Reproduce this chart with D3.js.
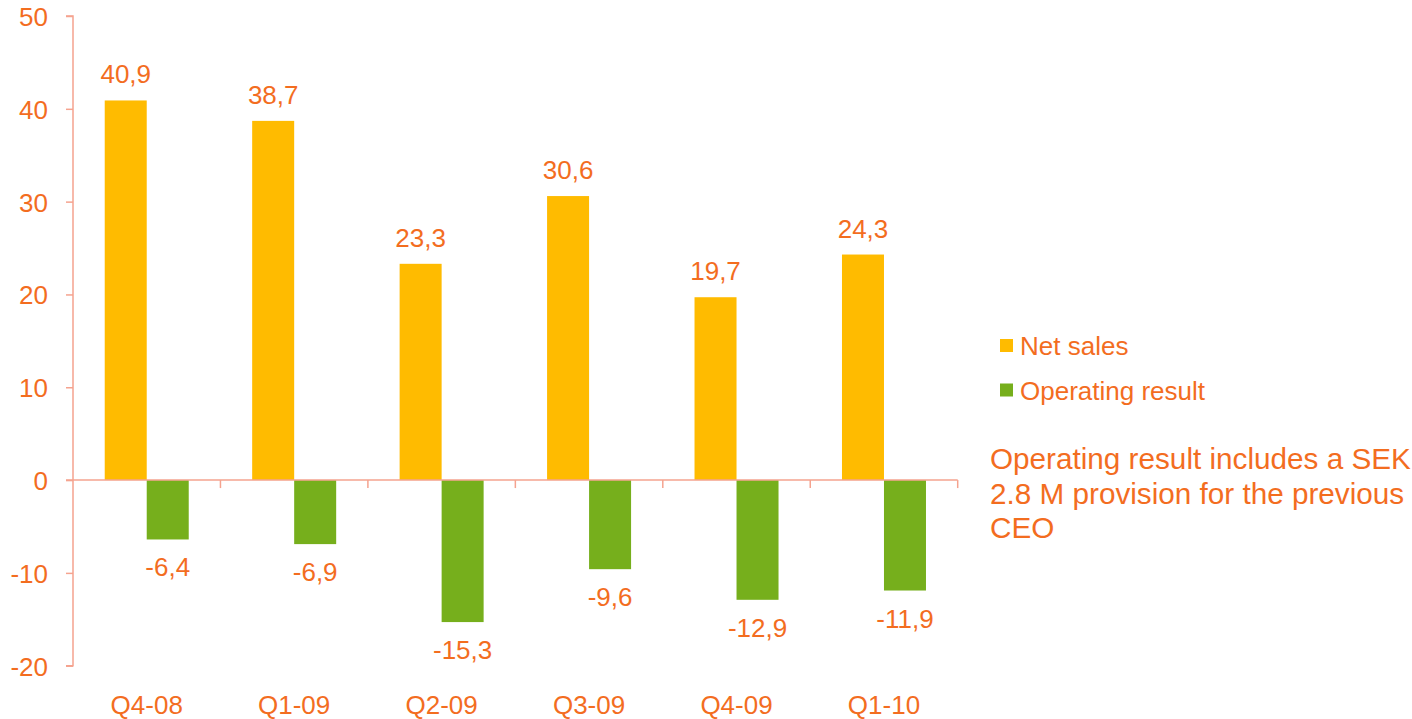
<!DOCTYPE html>
<html>
<head>
<meta charset="utf-8">
<script src="https://cdn.jsdelivr.net/npm/d3@7"></script>
<style>
  body { margin: 0; background: #fff; }
  svg { display: block; font-family: "Liberation Sans", Arial, sans-serif; }
</style>
</head>
<body>
<svg id="chart" width="1412" height="719"></svg>
<script>
const quarters = ["Q4-08", "Q1-09", "Q2-09", "Q3-09", "Q4-09", "Q1-10"];
const netSales = [40.9, 38.7, 23.3, 30.6, 19.7, 24.3];
const operatingResult = [-6.4, -6.9, -15.3, -9.6, -12.9, -11.9];
const seriesNames = ["Net sales", "Operating result"];
const yTicks = [-20, -10, 0, 10, 20, 30, 40, 50];
const noteLines = ["Operating result includes a SEK", "2.8 M provision for the previous", "CEO"];

const orange = "#f36d1f";
const axisColor = "#f5a38f";
const colors = { "Net sales": "#ffbb00", "Operating result": "#76af1c" };

const svg = d3.select("#chart");
const plotLeft = 73, plotRight = 957.7, plotTop = 16, plotBottom = 665.7;

const x0 = d3.scaleBand().domain(quarters).range([plotLeft, plotRight]).padding(0);
const barW = 42;
const x1 = d3.scaleBand().domain(seriesNames).range([0, barW * 2]);
const inset = (x0.bandwidth() - barW * 2) / 2;
const y = d3.scaleLinear().domain([-20, 50]).range([plotBottom, plotTop]);

// y axis
const gy = svg.append("g").attr("transform", `translate(${plotLeft},0)`)
    .call(d3.axisLeft(y).tickValues(yTicks).tickSize(7).tickPadding(18).tickFormat(d3.format("d")));
gy.select(".domain").attr("stroke", axisColor).attr("stroke-width", 1.5)
    .attr("d", `M-7,${y(50)}H0V${y(-20)}H-7`);
gy.selectAll(".tick line").attr("stroke", axisColor).attr("stroke-width", 1.5);
gy.selectAll(".tick text").attr("fill", orange).attr("font-size", 26).attr("dy", "0.36em")
    .text(d => d3.format("d")(d).replace("−", "-"));

// bars
const rows = quarters.map((q, i) => ({ q, vals: [
    { s: "Net sales", v: netSales[i] },
    { s: "Operating result", v: operatingResult[i] }] }));

const groups = svg.append("g").selectAll("g").data(rows).join("g")
    .attr("transform", d => `translate(${x0(d.q) + inset},0)`);

groups.selectAll("rect").data(d => d.vals).join("rect")
    .attr("x", d => x1(d.s))
    .attr("width", x1.bandwidth())
    .attr("y", d => y(Math.max(0, d.v)))
    .attr("height", d => Math.abs(y(d.v) - y(0)))
    .attr("fill", d => colors[d.s]);

const fmt = v => d3.format(".1f")(v).replace(".", ",").replace("−", "-");
groups.selectAll("text").data(d => d.vals).join("text")
    .attr("x", d => x1(d.s) + x1.bandwidth() / 2)
    .attr("y", d => d.v >= 0 ? y(d.v) - 17 : y(d.v) + 37)
    .attr("text-anchor", "middle")
    .attr("fill", orange)
    .attr("font-size", 26)
    .text(d => fmt(d.v));

// x axis at zero
const gx = svg.append("g").attr("transform", `translate(0,${y(0)})`);
gx.append("line").attr("x1", plotLeft - 7).attr("x2", plotRight).attr("stroke", axisColor).attr("stroke-width", 1.5);
gx.selectAll("line.tk").data(d3.range(1, quarters.length + 1)).join("line").attr("class", "tk")
    .attr("x1", i => plotLeft + i * x0.step()).attr("x2", i => plotLeft + i * x0.step())
    .attr("y1", 0).attr("y2", 8)
    .attr("stroke", axisColor).attr("stroke-width", 1.5);

svg.append("g").selectAll("text").data(quarters).join("text")
    .attr("x", d => x0(d) + x0.bandwidth() / 2)
    .attr("y", 714)
    .attr("text-anchor", "middle")
    .attr("fill", orange)
    .attr("font-size", 26)
    .text(d => d);

// legend
const legend = svg.append("g").selectAll("g").data(seriesNames).join("g")
    .attr("transform", (d, i) => `translate(1000,${339 + i * 44.5})`);
legend.append("rect").attr("width", 13).attr("height", 13).attr("fill", d => colors[d]);
legend.append("text").attr("x", 20).attr("y", 16).attr("fill", orange).attr("font-size", 26).text(d => d);

// note
svg.append("g").selectAll("text").data(noteLines).join("text")
    .attr("x", 990)
    .attr("y", (d, i) => 469 + i * 34.5)
    .attr("fill", orange)
    .attr("font-size", 29.7)
    .text(d => d);
</script>
</body>
</html>
